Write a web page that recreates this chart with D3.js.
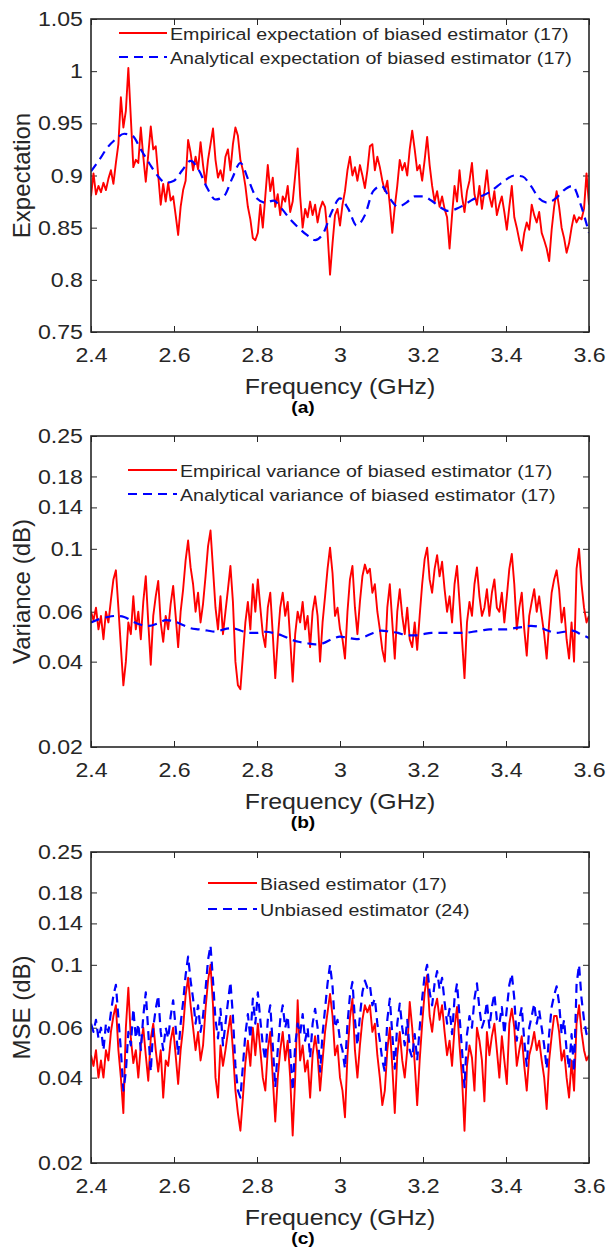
<!DOCTYPE html>
<html>
<head>
<meta charset="utf-8">
<script src="https://cdn.jsdelivr.net/npm/d3@7"></script>
<style>
  body { margin: 0; background: #fff; }
  svg { display: block; font-family: "Liberation Sans", Arial, sans-serif; }
</style>
</head>
<body>
<div id="chart"></div>
<script>
const WIDTH = 606, HEIGHT = 1252
const LEFT = 91, RIGHT = 589
const INK = "#262626"

const FREQ_TICKS = [2.4, 2.6, 2.8, 3.0, 3.2, 3.4, 3.6]
const EXP_TICKS = [0.75, 0.8, 0.85, 0.9, 0.95, 1.0, 1.05]
const DB_TICKS = [0.02, 0.04, 0.06, 0.1, 0.14, 0.18, 0.25]

// frequency grids in GHz: measured curves every 6 MHz, analytical curves every 20 MHz
const freq = d3.range(201).map(i => 2.4 + i * 0.006)
const freqSmooth = d3.range(61).map(i => 2.4 + i * 0.02)

// (a) expectation
const expEmpirical = [
  0.880, 0.902, 0.882, 0.890, 0.884, 0.893, 0.886, 0.897, 0.905, 0.892, 0.912, 0.930, 0.975, 0.946, 0.962, 1.003, 0.955,
  0.908, 0.915, 0.912, 0.946, 0.918, 0.894, 0.920, 0.947, 0.925, 0.928, 0.900, 0.872, 0.892, 0.875, 0.893, 0.876, 0.880,
  0.862, 0.843, 0.870, 0.886, 0.895, 0.934, 0.922, 0.905, 0.918, 0.906, 0.932, 0.910, 0.892, 0.915, 0.930, 0.945, 0.915,
  0.898, 0.905, 0.895, 0.918, 0.925, 0.905, 0.930, 0.946, 0.938, 0.915, 0.905, 0.890, 0.870, 0.858, 0.840, 0.838, 0.845,
  0.872, 0.850, 0.880, 0.910, 0.885, 0.898, 0.870, 0.882, 0.862, 0.880, 0.875, 0.890, 0.865, 0.875, 0.900, 0.926, 0.880,
  0.850, 0.868, 0.860, 0.875, 0.862, 0.872, 0.855, 0.868, 0.875, 0.870, 0.845, 0.805, 0.835, 0.862, 0.868, 0.852, 0.872,
  0.885, 0.905, 0.918, 0.900, 0.908, 0.895, 0.910, 0.900, 0.888, 0.905, 0.928, 0.930, 0.905, 0.918, 0.908, 0.895, 0.885,
  0.895, 0.872, 0.845, 0.870, 0.890, 0.915, 0.905, 0.912, 0.900, 0.925, 0.943, 0.925, 0.905, 0.910, 0.895, 0.915, 0.937,
  0.910, 0.890, 0.875, 0.885, 0.870, 0.880, 0.868, 0.860, 0.830, 0.862, 0.890, 0.875, 0.905, 0.880, 0.865, 0.885, 0.895,
  0.912, 0.882, 0.872, 0.890, 0.868, 0.885, 0.905, 0.880, 0.870, 0.885, 0.862, 0.872, 0.880, 0.865, 0.848, 0.870, 0.890,
  0.860, 0.850, 0.838, 0.828, 0.845, 0.855, 0.848, 0.872, 0.862, 0.855, 0.865, 0.845, 0.838, 0.830, 0.818, 0.848, 0.870,
  0.885, 0.870, 0.850, 0.840, 0.826, 0.835, 0.850, 0.862, 0.855, 0.860, 0.858, 0.868, 0.902, 0.872
]
const expAnalytical = [
  0.904, 0.915, 0.927, 0.935, 0.940, 0.938, 0.925, 0.912, 0.900, 0.893, 0.895, 0.905, 0.914, 0.905, 0.888, 0.877,
  0.880, 0.897, 0.912, 0.895, 0.878, 0.874, 0.876, 0.868, 0.858, 0.850, 0.843, 0.838, 0.845, 0.865, 0.878, 0.868,
  0.852, 0.862, 0.885, 0.890, 0.878, 0.870, 0.874, 0.880, 0.880, 0.876, 0.870, 0.866, 0.868, 0.872, 0.877, 0.880,
  0.884, 0.890, 0.896, 0.900, 0.899, 0.890, 0.878, 0.874, 0.878, 0.886, 0.890, 0.872, 0.845
]

// (b) variance
const varEmpirical = [
  0.060, 0.056, 0.062, 0.052, 0.058, 0.048, 0.060, 0.055, 0.066, 0.078, 0.084, 0.062, 0.045, 0.033, 0.040, 0.055, 0.050,
  0.068, 0.052, 0.060, 0.048, 0.065, 0.080, 0.055, 0.039, 0.058, 0.068, 0.077, 0.055, 0.047, 0.058, 0.052, 0.064, 0.074,
  0.058, 0.045, 0.060, 0.072, 0.091, 0.107, 0.086, 0.075, 0.060, 0.070, 0.055, 0.064, 0.080, 0.102, 0.116, 0.085, 0.062,
  0.052, 0.068, 0.050, 0.060, 0.072, 0.087, 0.065, 0.040, 0.033, 0.032, 0.042, 0.055, 0.065, 0.052, 0.075, 0.060, 0.078,
  0.062, 0.050, 0.045, 0.062, 0.070, 0.050, 0.035, 0.048, 0.062, 0.070, 0.058, 0.065, 0.048, 0.034, 0.050, 0.060, 0.055,
  0.065, 0.052, 0.058, 0.045, 0.060, 0.068, 0.058, 0.040, 0.055, 0.068, 0.085, 0.101, 0.082, 0.058, 0.062, 0.052, 0.048,
  0.041, 0.060, 0.078, 0.087, 0.062, 0.050, 0.065, 0.080, 0.088, 0.082, 0.085, 0.070, 0.075, 0.060, 0.052, 0.044, 0.040,
  0.062, 0.075, 0.055, 0.041, 0.060, 0.072, 0.058, 0.050, 0.062, 0.048, 0.045, 0.055, 0.044, 0.058, 0.075, 0.092, 0.101,
  0.078, 0.070, 0.085, 0.095, 0.080, 0.090, 0.072, 0.060, 0.068, 0.055, 0.075, 0.087, 0.065, 0.048, 0.035, 0.055, 0.065,
  0.058, 0.075, 0.086, 0.068, 0.058, 0.062, 0.072, 0.058, 0.070, 0.078, 0.062, 0.060, 0.070, 0.055, 0.068, 0.085, 0.096,
  0.075, 0.052, 0.062, 0.070, 0.052, 0.042, 0.058, 0.065, 0.072, 0.060, 0.068, 0.058, 0.050, 0.041, 0.055, 0.070, 0.078,
  0.084, 0.072, 0.055, 0.062, 0.048, 0.041, 0.055, 0.040, 0.085, 0.100, 0.075, 0.062, 0.055, 0.058
]
const varAnalytical = [
  0.0550, 0.0565, 0.0575, 0.0580, 0.0575, 0.0555, 0.0540, 0.0535, 0.0545, 0.0560, 0.0555, 0.0540, 0.0525, 0.0520, 0.0515, 0.0510,
  0.0520, 0.0525, 0.0515, 0.0505, 0.0505, 0.0510, 0.0505, 0.0495, 0.0480, 0.0470, 0.0465, 0.0460, 0.0465, 0.0480, 0.0490, 0.0485,
  0.0480, 0.0490, 0.0505, 0.0515, 0.0510, 0.0505, 0.0495, 0.0495, 0.0500, 0.0505, 0.0505, 0.0505, 0.0505, 0.0505, 0.0510, 0.0515,
  0.0520, 0.0520, 0.0520, 0.0525, 0.0530, 0.0535, 0.0530, 0.0515, 0.0505, 0.0510, 0.0515, 0.0500, 0.0485
]

// (c) MSE
const mseBiased = [
  0.048, 0.044, 0.050, 0.040, 0.046, 0.040, 0.050, 0.046, 0.058, 0.066, 0.072, 0.050, 0.040, 0.030, 0.060, 0.083, 0.055,
  0.045, 0.050, 0.040, 0.052, 0.060, 0.048, 0.039, 0.055, 0.062, 0.050, 0.042, 0.050, 0.034, 0.046, 0.044, 0.054, 0.060,
  0.048, 0.038, 0.050, 0.060, 0.078, 0.090, 0.072, 0.060, 0.050, 0.058, 0.046, 0.052, 0.070, 0.088, 0.100, 0.072, 0.040,
  0.034, 0.052, 0.044, 0.050, 0.058, 0.066, 0.050, 0.036, 0.030, 0.026, 0.034, 0.045, 0.054, 0.044, 0.060, 0.048, 0.062,
  0.050, 0.040, 0.036, 0.050, 0.058, 0.040, 0.028, 0.040, 0.050, 0.058, 0.046, 0.054, 0.040, 0.025, 0.040, 0.075, 0.046,
  0.052, 0.042, 0.046, 0.034, 0.048, 0.056, 0.048, 0.036, 0.046, 0.058, 0.068, 0.079, 0.066, 0.048, 0.052, 0.040, 0.036,
  0.029, 0.048, 0.065, 0.076, 0.050, 0.040, 0.052, 0.064, 0.072, 0.068, 0.072, 0.058, 0.062, 0.048, 0.040, 0.032, 0.036,
  0.050, 0.060, 0.044, 0.030, 0.048, 0.058, 0.046, 0.040, 0.050, 0.074, 0.060, 0.045, 0.032, 0.046, 0.062, 0.080, 0.092,
  0.066, 0.058, 0.070, 0.076, 0.064, 0.072, 0.058, 0.048, 0.054, 0.044, 0.060, 0.071, 0.052, 0.040, 0.026, 0.044, 0.052,
  0.047, 0.036, 0.060, 0.054, 0.046, 0.033, 0.058, 0.048, 0.056, 0.062, 0.050, 0.040, 0.056, 0.046, 0.038, 0.062, 0.070,
  0.060, 0.044, 0.050, 0.056, 0.044, 0.036, 0.048, 0.052, 0.058, 0.050, 0.054, 0.046, 0.040, 0.031, 0.046, 0.056, 0.066,
  0.066, 0.058, 0.046, 0.050, 0.040, 0.034, 0.046, 0.036, 0.062, 0.072, 0.058, 0.050, 0.046, 0.048
]
const mseUnbiased = [
  0.062, 0.058, 0.064, 0.055, 0.060, 0.050, 0.062, 0.058, 0.068, 0.078, 0.085, 0.065, 0.050, 0.036, 0.042, 0.058, 0.052,
  0.070, 0.055, 0.062, 0.050, 0.066, 0.080, 0.058, 0.042, 0.060, 0.070, 0.078, 0.058, 0.050, 0.060, 0.055, 0.066, 0.075,
  0.060, 0.048, 0.062, 0.074, 0.092, 0.107, 0.088, 0.076, 0.062, 0.072, 0.058, 0.066, 0.082, 0.104, 0.117, 0.088, 0.064,
  0.055, 0.070, 0.052, 0.062, 0.074, 0.087, 0.066, 0.044, 0.036, 0.034, 0.044, 0.057, 0.067, 0.055, 0.076, 0.062, 0.080,
  0.064, 0.052, 0.046, 0.064, 0.072, 0.052, 0.037, 0.050, 0.064, 0.072, 0.060, 0.066, 0.050, 0.036, 0.052, 0.062, 0.057,
  0.067, 0.054, 0.060, 0.047, 0.062, 0.070, 0.060, 0.042, 0.057, 0.070, 0.086, 0.100, 0.084, 0.060, 0.064, 0.054, 0.050,
  0.043, 0.062, 0.078, 0.087, 0.064, 0.052, 0.066, 0.080, 0.088, 0.083, 0.085, 0.072, 0.076, 0.062, 0.054, 0.046, 0.042,
  0.064, 0.076, 0.057, 0.043, 0.062, 0.073, 0.060, 0.052, 0.064, 0.050, 0.047, 0.057, 0.046, 0.060, 0.076, 0.092, 0.100,
  0.080, 0.072, 0.086, 0.095, 0.082, 0.090, 0.074, 0.062, 0.070, 0.057, 0.076, 0.086, 0.066, 0.050, 0.037, 0.057, 0.066,
  0.060, 0.076, 0.086, 0.070, 0.060, 0.064, 0.074, 0.060, 0.071, 0.079, 0.064, 0.062, 0.071, 0.057, 0.070, 0.085, 0.093,
  0.076, 0.054, 0.064, 0.071, 0.054, 0.044, 0.060, 0.066, 0.073, 0.062, 0.069, 0.060, 0.052, 0.043, 0.057, 0.071, 0.078,
  0.084, 0.073, 0.057, 0.064, 0.050, 0.043, 0.057, 0.042, 0.085, 0.100, 0.076, 0.064, 0.057, 0.060
]

const RED = "#ff0000", BLUE = "#0000ff"
const SX = 1.13 // the figure text is a bit wider than plain Arial

const panels = [
  { top: 19, bottom: 332, log: false, domain: [0.75, 1.05], ticks: EXP_TICKS, ylabel: "Expectation", tag: "(a)",
    legend: { x: 119, y: 33, w: 48, gap: 24 },
    series: [
      { x: freq, y: expEmpirical, color: RED, dash: null, label: "Empirical expectation of biased estimator (17)" },
      { x: freqSmooth, y: expAnalytical, color: BLUE, dash: "9,6", label: "Analytical expectation of biased estimator (17)" }
    ] },
  { top: 436, bottom: 747, log: true, domain: [0.02, 0.25], ticks: DB_TICKS, ylabel: "Variance (dB)", tag: "(b)",
    legend: { x: 128, y: 470, w: 49, gap: 24 },
    series: [
      { x: freq, y: varEmpirical, color: RED, dash: null, label: "Empirical variance of biased estimator (17)" },
      { x: freqSmooth, y: varAnalytical, color: BLUE, dash: "9,6", label: "Analytical variance of biased estimator (17)" }
    ] },
  { top: 852, bottom: 1163, log: true, domain: [0.02, 0.25], ticks: DB_TICKS, ylabel: "MSE (dB)", tag: "(c)",
    legend: { x: 208, y: 883, w: 49, gap: 26 },
    series: [
      { x: freq, y: mseBiased, color: RED, dash: null, label: "Biased estimator (17)" },
      { x: freq, y: mseUnbiased, color: BLUE, dash: "9,6", label: "Unbiased estimator (24)" }
    ] }
]

const svg = d3.select("#chart").append("svg")
    .attr("width", WIDTH)
    .attr("height", HEIGHT)

svg.append("rect").attr("width", WIDTH).attr("height", HEIGHT).attr("fill", "#fff")

const x = d3.scaleLinear().domain([2.4, 3.6]).range([LEFT, RIGHT])
const fmt = d3.format("~g")

function styleAxis(g) {
  g.attr("font-family", null).attr("font-size", null)
  g.select(".domain").remove()
  g.selectAll(".tick line").attr("stroke", INK).attr("stroke-width", 1)
  g.selectAll("text").attr("fill", INK).style("font-size", "20.5px")
}

panels.forEach((p, k) => {
  const y = (p.log ? d3.scaleLog() : d3.scaleLinear()).domain(p.domain).range([p.bottom, p.top])

  const clipId = "clip" + k
  svg.append("clipPath").attr("id", clipId)
    .append("rect")
      .attr("x", LEFT).attr("y", p.top)
      .attr("width", RIGHT - LEFT).attr("height", p.bottom - p.top)

  // inward ticks on all four sides
  const bottomAxis = svg.append("g").attr("transform", `translate(0,${p.bottom})`)
    .call(d3.axisBottom(x).tickValues(FREQ_TICKS).tickSize(-6).tickFormat(fmt))
  styleAxis(bottomAxis)
  bottomAxis.selectAll("text")
    .attr("y", null).attr("dy", null)
    .attr("transform", `translate(0,30) scale(${SX},1)`)

  const topAxis = svg.append("g").attr("transform", `translate(0,${p.top})`)
    .call(d3.axisTop(x).tickValues(FREQ_TICKS).tickSize(-6).tickFormat(""))
  styleAxis(topAxis)

  const leftAxis = svg.append("g").attr("transform", `translate(${LEFT},0)`)
    .call(d3.axisLeft(y).tickValues(p.ticks).tickSize(-6).tickFormat(fmt))
  styleAxis(leftAxis)
  leftAxis.selectAll("text")
    .attr("x", null)
    .attr("transform", `translate(-8,0) scale(${SX},1)`)

  const rightAxis = svg.append("g").attr("transform", `translate(${RIGHT},0)`)
    .call(d3.axisRight(y).tickValues(p.ticks).tickSize(-6).tickFormat(""))
  styleAxis(rightAxis)

  // curves
  const plot = svg.append("g").attr("clip-path", `url(#${clipId})`)
  p.series.forEach(s => {
    const pts = s.x.map((f, i) => [f, s.y[i]])
    const line = d3.line()
      .x(d => x(d[0]))
      .y(d => y(d[1]))
      .curve(s.dash && s.x === freqSmooth ? d3.curveMonotoneX : d3.curveLinear)
    plot.append("path")
      .datum(pts)
      .attr("d", line)
      .attr("fill", "none")
      .attr("stroke", s.color)
      .attr("stroke-width", s.dash ? 2.2 : 1.9)
      .attr("stroke-dasharray", s.dash)
      .attr("stroke-linejoin", "round")
  })

  // axes box
  svg.append("rect")
    .attr("x", LEFT).attr("y", p.top)
    .attr("width", RIGHT - LEFT).attr("height", p.bottom - p.top)
    .attr("fill", "none")
    .attr("stroke", INK)
    .attr("stroke-width", 1.6)

  // legend (no box)
  p.series.forEach((s, i) => {
    const ly = p.legend.y + i * p.legend.gap
    svg.append("line")
      .attr("x1", p.legend.x).attr("x2", p.legend.x + p.legend.w)
      .attr("y1", ly).attr("y2", ly)
      .attr("stroke", s.color)
      .attr("stroke-width", s.dash ? 2.2 : 1.9)
      .attr("stroke-dasharray", s.dash)
    svg.append("text")
      .attr("transform", `translate(${p.legend.x + p.legend.w + 3},${ly + 6.5}) scale(${SX},1)`)
      .attr("fill", INK)
      .style("font-size", "17.4px")
      .text(s.label)
  })

  // axis titles
  svg.append("text")
    .attr("transform", `translate(${(LEFT + RIGHT) / 2},${p.bottom + 62}) scale(${SX},1)`)
    .attr("text-anchor", "middle")
    .attr("fill", INK)
    .style("font-size", "22px")
    .text("Frequency (GHz)")

  svg.append("text")
    .attr("transform", `translate(30,${(p.top + p.bottom) / 2}) rotate(-90)`)
    .attr("text-anchor", "middle")
    .attr("fill", INK)
    .style("font-size", "24px")
    .text(p.ylabel)

  svg.append("text")
    .attr("transform", `translate(303,${p.bottom + 81}) scale(${SX},1)`)
    .attr("text-anchor", "middle")
    .attr("fill", "#000")
    .style("font-size", "17px")
    .style("font-weight", "bold")
    .text(p.tag)
})
</script>
</body>
</html>
